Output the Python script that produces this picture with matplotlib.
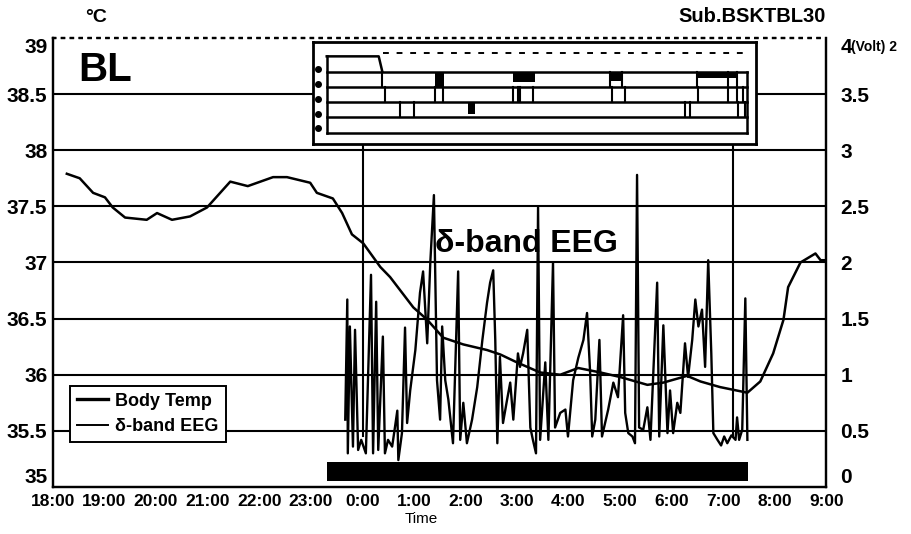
import matplotlib.pyplot as plt
from matplotlib.lines import Line2D

plt.rcParams['font.family'] = ['Liberation Sans', 'DejaVu Sans']
plt.rcParams['font.weight'] = 'bold'

# hours after 18:00
hour_labels = ['18:00', '19:00', '20:00', '21:00', '22:00', '23:00', '0:00', '1:00',
               '2:00', '3:00', '4:00', '5:00', '6:00', '7:00', '8:00', '9:00']

temp_hours = [0.27, 0.52, 0.78, 1.01, 1.16, 1.40, 1.82, 2.02, 2.31, 2.66, 2.99, 3.44,
              3.78, 4.27, 4.54, 4.99, 5.12, 5.43, 5.61, 5.80, 6.02, 6.35, 6.54, 6.99,
              7.26, 7.57, 7.96, 8.42, 8.68, 9.00, 9.45, 9.84, 10.19, 10.62, 11.00, 11.53,
              11.84, 12.30, 12.56, 12.94, 13.47, 13.72, 13.97, 14.17, 14.26, 14.50, 14.79,
              14.89, 14.98]
temp_values = [37.79, 37.75, 37.62, 37.58, 37.49, 37.40, 37.38, 37.44, 37.38, 37.41, 37.49,
               37.72, 37.68, 37.76, 37.76, 37.71, 37.62, 37.57, 37.44, 37.25, 37.17, 36.96,
               36.87, 36.60, 36.49, 36.33, 36.27, 36.22, 36.18, 36.11, 36.02, 36.00, 36.06,
               36.02, 35.98, 35.91, 35.93, 35.99, 35.94, 35.89, 35.84, 35.94, 36.19, 36.49,
               36.78, 37.00, 37.08, 37.02, 37.02]

eeg_hours = [5.67, 5.71, 5.72, 5.76, 5.82, 5.86, 5.92, 5.98, 6.07, 6.17, 6.21, 6.27, 6.31,
             6.40, 6.44, 6.50, 6.58, 6.64, 6.68, 6.70, 6.77, 6.83, 6.87, 6.93, 7.03, 7.12,
             7.18, 7.26, 7.32, 7.39, 7.45, 7.51, 7.55, 7.61, 7.67, 7.76, 7.86, 7.90, 7.96,
             8.03, 8.13, 8.23, 8.33, 8.42, 8.48, 8.54, 8.58, 8.62, 8.67, 8.73, 8.81, 8.87,
             8.93, 9.02, 9.06, 9.12, 9.20, 9.26, 9.31, 9.37, 9.41, 9.45, 9.55, 9.61, 9.70,
             9.74, 9.84, 9.94, 9.99, 10.09, 10.19, 10.29, 10.36, 10.42, 10.46, 10.52, 10.60,
             10.65, 10.71, 10.77, 10.87, 10.96, 11.06, 11.10, 11.16, 11.24, 11.29, 11.33,
             11.37, 11.45, 11.53, 11.59, 11.72, 11.76, 11.84, 11.92, 11.97, 12.03, 12.11,
             12.17, 12.26, 12.32, 12.40, 12.46, 12.52, 12.59, 12.65, 12.71, 12.77, 12.81,
             12.89, 12.96, 13.02, 13.08, 13.16, 13.24, 13.27, 13.31, 13.37, 13.43, 13.47]
eeg_volts = [0.60, 1.67, 0.30, 1.43, 0.36, 1.40, 0.33, 0.42, 0.30, 1.89, 0.30, 1.65, 0.33,
             1.34, 0.30, 0.42, 0.36, 0.55, 0.68, 0.24, 0.48, 1.42, 0.57, 0.86, 1.22, 1.73,
             1.92, 1.28, 2.00, 2.60, 0.95, 0.60, 1.43, 0.95, 0.78, 0.39, 1.92, 0.42, 0.75,
             0.39, 0.60, 0.89, 1.31, 1.64, 1.82, 1.93, 1.31, 0.39, 1.16, 0.57, 0.78, 0.93,
             0.60, 1.19, 1.07, 1.19, 1.40, 0.53, 0.42, 0.30, 2.49, 0.42, 1.11, 0.42, 2.00,
             0.53, 0.66, 0.69, 0.45, 0.95, 1.15, 1.31, 1.55, 1.02, 0.45, 0.60, 1.31,
             0.45, 0.57, 0.69, 0.93, 0.80, 1.53, 0.66, 0.48, 0.45, 0.39, 2.78,
             0.53, 0.51, 0.71, 0.42, 1.82, 0.45, 1.44, 0.48, 0.86, 0.48, 0.75,
             0.66, 1.28, 0.98, 1.31, 1.67, 1.43, 1.58, 1.07, 2.02, 1.19, 0.48,
             0.42, 0.37, 0.45, 0.39, 0.46, 0.42, 0.62, 0.42, 0.51, 1.68, 0.42]

sleep_start, sleep_end = 5.32, 13.49
marker_hours = [6.02, 13.20]

# hypnogram (inset)
hyp_start, hyp_end, wake_end = 5.30, 13.47, 6.31
hyp_levels = [0, 1, 2, 3, 4]
hyp_edges = [(6.38, 3, 4), (10.81, 3, 4), (11.04, 3, 4), (12.50, 3, 4), (13.10, 3, 4), (13.27, 3, 4),
             (6.44, 2, 3), (7.41, 2, 3), (7.55, 2, 3), (8.91, 2, 3), (9.02, 2, 3), (9.06, 2, 3),
             (9.30, 2, 3), (10.85, 2, 3), (11.10, 2, 3), (12.52, 2, 3), (13.10, 2, 3), (13.27, 2, 3),
             (13.39, 2, 3), (6.73, 1, 2), (6.99, 1, 2), (12.26, 1, 2), (12.36, 1, 2), (13.29, 1, 2),
             (13.43, 1, 2)]
hyp_blocks = [(7.41, 7.57, 3, 4), (8.91, 9.35, 3.3, 4), (10.81, 11.04, 3.4, 4),
              (12.50, 13.29, 3.55, 4), (8.05, 8.19, 1.2, 2)]

fig = plt.figure(figsize=(9.12, 5.34), dpi=100)
ax = fig.add_axes([0.058, 0.088, 0.848, 0.841])
ax2 = ax.twinx()

ax.set_xlim(0, 15)
ax.set_ylim(35, 39)
ax2.set_ylim(0, 4)

for t in [35.5, 36, 36.5, 37, 37.5, 38, 38.5]:
    ax.axhline(t, color='black', lw=1.5, zorder=1)

ax.plot(temp_hours, temp_values, color='black', lw=1.8, zorder=3)
ax2.plot(eeg_hours, eeg_volts, color='black', lw=1.7)
for h in marker_hours:
    ax2.plot([h, h], [3.05, 0.45], color='black', lw=1.5)
ax2.fill_between([sleep_start, sleep_end], 0.05, 0.22, color='black', lw=0)

ax.set_xticks(range(16))
ax.set_xticklabels(hour_labels, fontsize=12.5)
ax.set_yticks([35, 35.5, 36, 36.5, 37, 37.5, 38, 38.5, 39])
ax.set_yticklabels(['35', '35.5', '36', '36.5', '37', '37.5', '38', '38.5', '39'], fontsize=15)
ax2.set_yticks([0, 0.5, 1, 1.5, 2, 2.5, 3, 3.5, 4])
ax2.set_yticklabels(['0', '0.5', '1', '1.5', '2', '2.5', '3', '3.5', '4'], fontsize=15)
ax.tick_params(axis='x', length=0, pad=5)
ax.tick_params(axis='y', length=0, pad=4)
ax2.tick_params(axis='y', length=0, pad=10)
# end labels sit inside the frame a little, like the original
for a in (ax, ax2):
    labels = a.get_yticklabels()
    labels[0].set_va('bottom')
    labels[-1].set_va('top')
ax.set_xlabel('Time', fontsize=11)
ax.xaxis.set_label_coords(0.476, -0.056)

for a in (ax, ax2):
    for s in a.spines.values():
        s.set_linewidth(1.6)
    a.spines['top'].set_linestyle((0, (1, 3)))

handles = [Line2D([], [], color='black', lw=2.4), Line2D([], [], color='black', lw=1.4)]
leg = ax.legend(handles, ['Body Temp', 'δ-band EEG'], loc='lower left',
                bbox_to_anchor=(0.022, 0.1), fontsize=13, handlelength=1.7,
                handletextpad=0.4, fancybox=False, framealpha=1, edgecolor='black',
                borderaxespad=0, labelspacing=0.45)
leg.get_frame().set_linewidth(1.4)
leg.set_zorder(5)

fig.text(0.093, 0.958, '°C', fontsize=14)
fig.text(0.905, 0.958, 'Sub.BSKTBL30', fontsize=14.5, ha='right')
fig.text(0.933, 0.905, '(Volt) 2', fontsize=10)
fig.text(0.086, 0.848, 'BL', fontsize=29)
fig.text(0.477, 0.528, 'δ-band EEG', fontsize=23)

# inset hypnogram
ins = fig.add_axes([0.343, 0.731, 0.486, 0.190])
ins.set_facecolor('white')
ins.set_zorder(10)
ins.set_xlim(5.03, 13.64)
ins.set_ylim(-0.73, 5.93)
ins.set_xticks([])
ins.set_yticks([])
for s in ins.spines.values():
    s.set_linewidth(2.0)
for lv in hyp_levels:
    ins.plot([hyp_start, hyp_end], [lv, lv], color='black', lw=1.8)
ins.plot([hyp_start, wake_end, 6.38], [5, 5, 4], color='black', lw=1.8)
ins.plot([hyp_start, hyp_start], [0, 5], color='black', lw=1.8)
ins.plot([hyp_end, hyp_end], [0, 4], color='black', lw=1.8)
ins.plot([6.40, 13.40], [5.2, 5.2], color='black', lw=1.4, ls=(0, (3, 4)))
for h, lo, hi in hyp_edges:
    ins.plot([h, h], [lo, hi], color='black', lw=1.5)
for x0, x1, lo, hi in hyp_blocks:
    ins.fill_between([x0, x1], lo, hi, color='black', lw=0)
ins.plot([5.14] * 5, [4.2, 3.2, 2.2, 1.2, 0.3], 'o', color='black', ms=4)

fig.savefig('out.png', dpi=100)
